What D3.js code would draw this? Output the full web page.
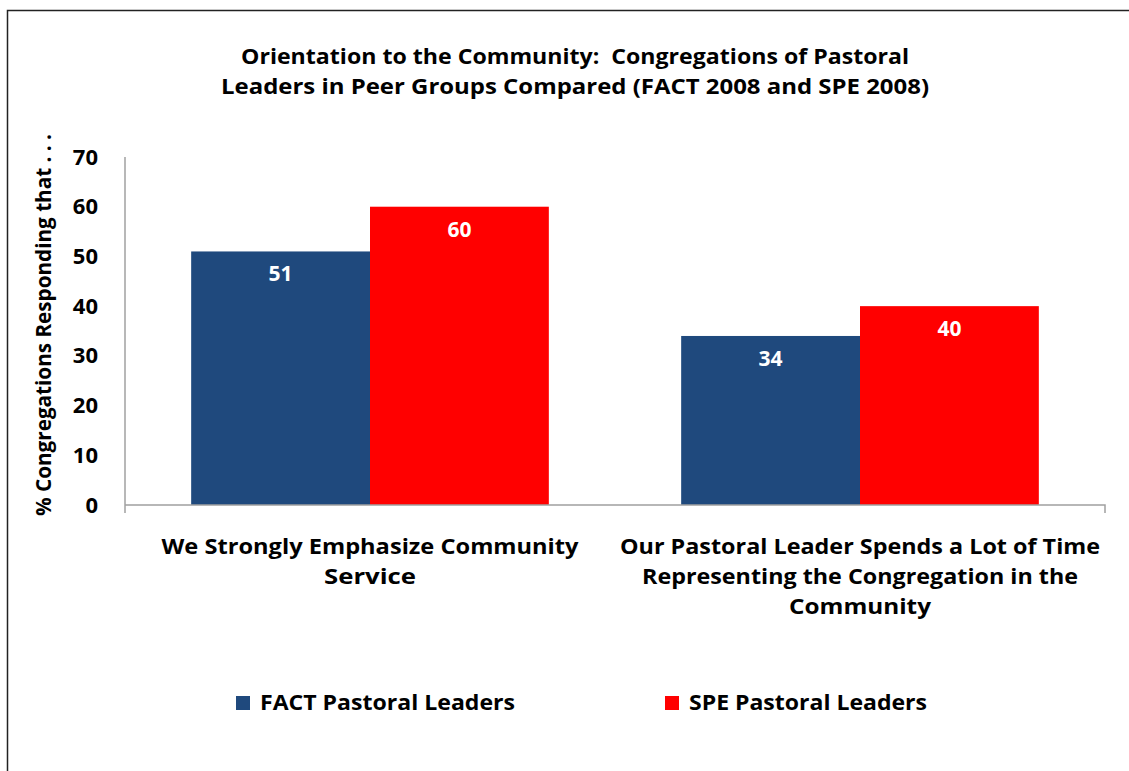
<!DOCTYPE html>
<html>
<head>
<meta charset="utf-8">
<script src="https://cdn.jsdelivr.net/npm/d3@7"></script>
<style>
  body { margin: 0; background: #fff; }
  svg text { font-family: "Open Sans", "Noto Sans", sans-serif; font-weight: bold; }
</style>
</head>
<body>
<div class="chart"></div>
<script>
// chart data
var categories = [
  ["We Strongly Emphasize Community", "Service"],
  ["Our Pastoral Leader Spends a Lot of Time", "Representing the Congregation in the", "Community"]
];
var seriesNames = ["FACT Pastoral Leaders", "SPE Pastoral Leaders"];
var factValues = [51, 34];
var speValues = [60, 40];
var yTicks = [0, 10, 20, 30, 40, 50, 60, 70];
var titleLines = ["Orientation to the Community:  Congregations of Pastoral",
                  "Leaders in Peer Groups Compared (FACT 2008 and SPE 2008)"];
var yTitle = "% Congregations Responding that . . .";

var colors = ["#1F497D", "#FF0000"];

make_chart();

function make_chart() {
  var width = 1129, height = 771;
  var plotLeft = 125, plotRight = 1105, plotTop = 157, plotBottom = 505;

  var svg = d3.select(".chart").append("svg")
    .attr("width", width)
    .attr("height", height);

  // outer frame (only top & left visible in the picture)
  svg.append("rect")
    .attr("x", 7.5).attr("y", 10.5)
    .attr("width", 1200).attr("height", 900)
    .attr("fill", "none")
    .attr("stroke", "#222")
    .attr("stroke-width", 1.5);

  // title
  svg.selectAll(".title")
    .data(titleLines)
    .enter().append("text")
    .attr("class", "title")
    .attr("x", 575)
    .attr("y", function(d, i) { return 64 + i * 30; })
    .attr("text-anchor", "middle")
    .attr("font-size", 22)
    .attr("textLength", function(d, i) { return i == 0 ? 668 : 708; })
    .attr("lengthAdjust", "spacingAndGlyphs")
    .style("white-space", "pre")
    .text(function(d) { return d; });

  var x0 = d3.scaleBand()
    .domain(d3.range(categories.length))
    .range([plotLeft, plotRight])
    .padding(0);

  var x1 = d3.scaleBand()
    .domain(d3.range(seriesNames.length))
    .range([0, x0.bandwidth()])
    .paddingOuter(0.37)
    .paddingInner(0);

  var y = d3.scaleLinear()
    .domain([0, 70])
    .range([plotBottom, plotTop]);

  // bars
  var groups = svg.selectAll(".grp")
    .data(categories)
    .enter().append("g")
    .attr("class", "grp")
    .attr("transform", function(d, i) { return "translate(" + x0(i) + ",0)"; });

  var seriesVals = [factValues, speValues];

  groups.each(function(d, ci) {
    var g = d3.select(this);
    seriesVals.forEach(function(vals, si) {
      g.append("rect")
        .attr("x", x1(si))
        .attr("y", y(vals[ci]))
        .attr("width", x1.bandwidth())
        .attr("height", y(0) - y(vals[ci]))
        .attr("fill", colors[si]);
      g.append("text")
        .attr("x", x1(si) + x1.bandwidth() / 2)
        .attr("y", y(vals[ci]) + 30)
        .attr("text-anchor", "middle")
        .attr("font-size", 21)
        .attr("fill", "#fff")
        .text(vals[ci]);
    });
  });

  // y axis
  var yAxis = d3.axisLeft(y).tickValues(yTicks).tickSize(0).tickPadding(27);
  var yg = svg.append("g")
    .attr("transform", "translate(" + plotLeft + ",0)")
    .call(yAxis);
  yg.select(".domain").attr("stroke", "#a0a0a0").attr("stroke-width", 1.5)
    .attr("d", "M0," + plotTop + "V" + (plotBottom + 8));
  yg.selectAll("text")
    .attr("font-size", 22)
    .attr("fill", "#000")
    .attr("font-family", "\"Open Sans\", sans-serif")
    .attr("font-weight", "bold");

  // x axis line
  svg.append("path")
    .attr("d", "M" + plotLeft + "," + plotBottom + "H" + plotRight + "V" + (plotBottom + 8))
    .attr("fill", "none")
    .attr("stroke", "#a0a0a0")
    .attr("stroke-width", 1.5);

  // category labels
  var catWidths = [[417, 92], [480, 436, 142]];
  groups.each(function(d, ci) {
    d3.select(this).selectAll(".cat")
      .data(d)
      .enter().append("text")
      .attr("class", "cat")
      .attr("x", x0.bandwidth() / 2)
      .attr("y", function(t, li) { return 554 + li * 30; })
      .attr("text-anchor", "middle")
      .attr("font-size", 21)
      .attr("textLength", function(t, li) { return catWidths[ci][li]; })
      .attr("lengthAdjust", "spacingAndGlyphs")
      .text(function(t) { return t; });
  });

  // y title
  svg.append("text")
    .attr("transform", "translate(51,325) rotate(-90)")
    .attr("text-anchor", "middle")
    .attr("font-size", 22)
    .attr("textLength", 382)
    .attr("lengthAdjust", "spacingAndGlyphs")
    .text(yTitle);

  // legend
  var legendX = [236, 665];
  var legendW = [255, 238];
  var legend = svg.selectAll(".leg")
    .data(seriesNames)
    .enter().append("g")
    .attr("class", "leg")
    .attr("transform", function(d, i) { return "translate(" + legendX[i] + ",696)"; });
  legend.append("rect")
    .attr("width", 14).attr("height", 14)
    .attr("fill", function(d, i) { return colors[i]; });
  legend.append("text")
    .attr("x", 24)
    .attr("y", 14)
    .attr("font-size", 21)
    .attr("textLength", function(d, i) { return legendW[i]; })
    .attr("lengthAdjust", "spacingAndGlyphs")
    .text(function(d) { return d; });
}
</script>
</body>
</html>
